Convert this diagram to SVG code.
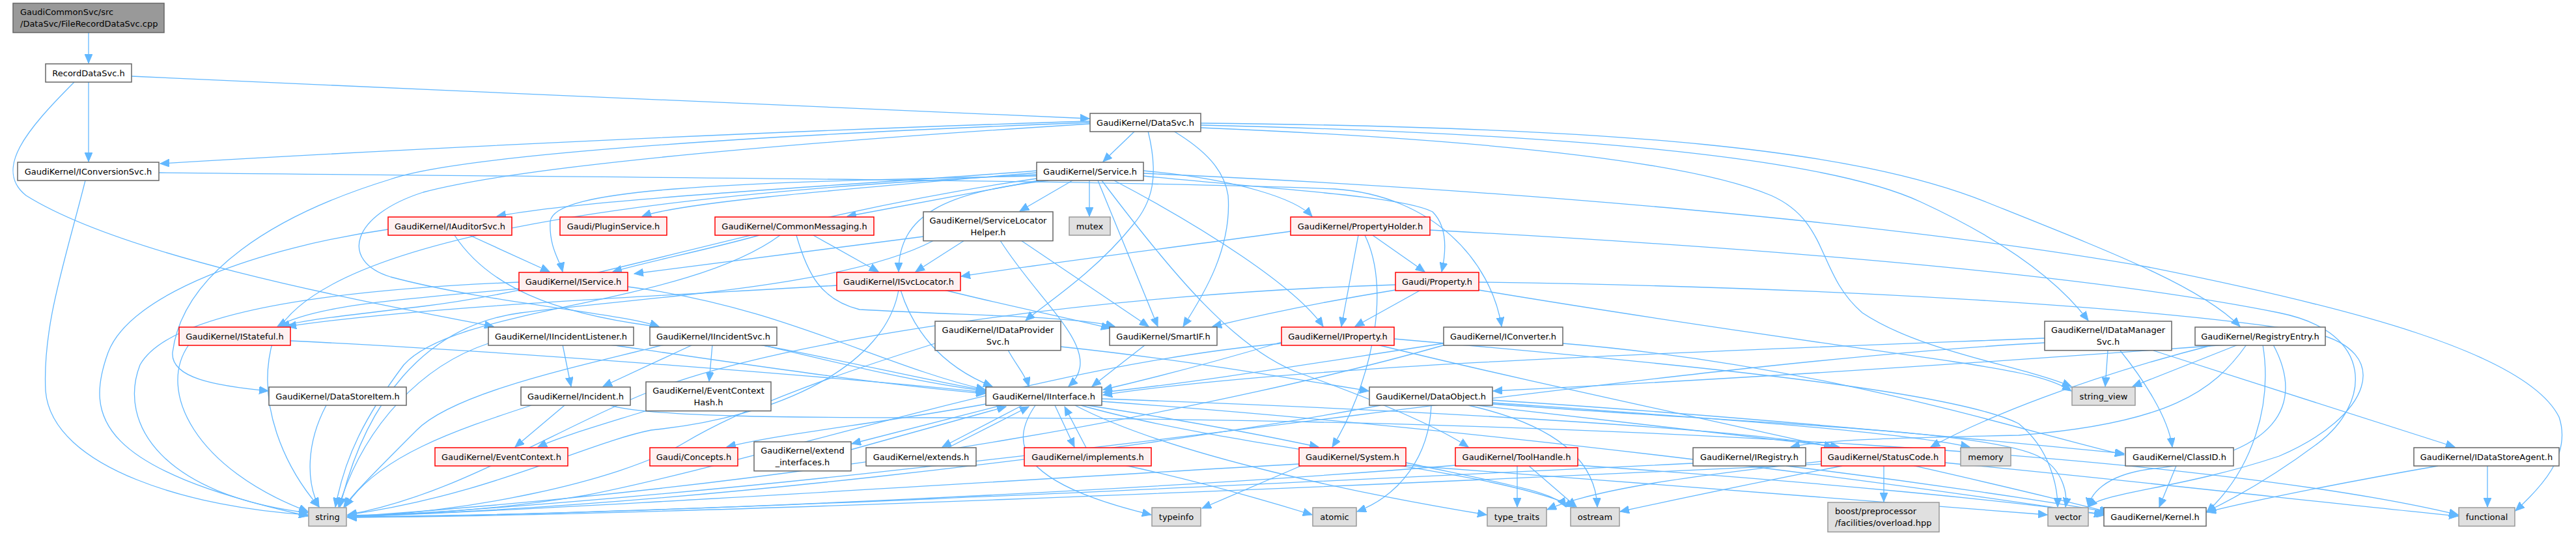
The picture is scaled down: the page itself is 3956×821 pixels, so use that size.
<svg xmlns="http://www.w3.org/2000/svg" width="3956" height="821" viewBox="0 0 3956 821">
<style>
.e{fill:none;stroke:#63b8ff;stroke-width:1.3;marker-end:url(#a)}
.n{fill:#fff;stroke:#666;stroke-width:1.5}
.g{fill:#e0e0e0;stroke:#999;stroke-width:1.5}
.r{fill:#fff0f0;stroke:#ff0000;stroke-width:1.5}
.root{fill:#999;stroke:#666;stroke-width:1.5}
text{font-family:"DejaVu Sans","Liberation Sans",sans-serif;font-size:13px;fill:#000;text-anchor:middle}
text.l{text-anchor:start}
</style>
<defs>
<marker id="a" markerWidth="15" markerHeight="12" refX="14" refY="6" orient="auto" markerUnits="userSpaceOnUse"><path d="M0,0 L14,6 L0,12 z" fill="#63b8ff" stroke="#63b8ff" stroke-width="1"/></marker>
</defs>
<rect width="3956" height="821" fill="#fff"/>
<g id="edges">
<path class="e" d="M136,50 L136,97"/>
<path class="e" d="M202,117 C700,140 1300,165 1673,182"/>
<path class="e" d="M136,126 L136,248"/>
<path class="e" d="M114,126 C40,200 -10,260 40,300 C200,400 600,470 758,501"/>
<path class="e" d="M1674,186 C1200,200 600,230 246,251"/>
<path class="e" d="M1674,188 C1100,210 700,240 600,275 C420,330 280,420 265,541 C262,580 330,592 412,600"/>
<path class="e" d="M1674,190 C1200,220 800,255 650,295 C540,330 520,400 600,425 C750,465 950,480 1012,501"/>
<path class="e" d="M1743,201 L1694,248"/>
<path class="e" d="M1763,201 C1780,270 1770,310 1740,345 C1680,420 1600,470 1575,492"/>
<path class="e" d="M1802,201 C1850,230 1880,260 1886,300 C1892,380 1850,450 1817,501"/>
<path class="e" d="M1844,196 C2300,215 2600,250 2720,300 C2810,340 2790,420 2860,480 C2950,540 3100,560 3181,593"/>
<path class="e" d="M1844,192 C2400,205 2800,240 2950,310 C3080,370 3160,430 3207,492"/>
<path class="e" d="M1844,189 C2500,195 2850,230 3050,310 C3250,390 3380,440 3440,501"/>
<path class="e" d="M1756,266 C2300,290 2900,340 3300,410 C3600,470 3880,540 3930,640 C3950,700 3900,750 3863,784"/>
<path class="e" d="M244,265 C900,272 1700,276 2050,290 C2200,300 2290,400 2306,501"/>
<path class="e" d="M131,277 C100,400 65,500 70,600 C80,720 300,780 473,790"/>
<path class="e" d="M1592,262 C1300,285 900,305 763,332"/>
<path class="e" d="M1592,265 C1300,290 1050,310 986,332"/>
<path class="e" d="M1595,277 L1301,332"/>
<path class="e" d="M1592,270 C1100,280 850,290 845,340 C843,380 860,400 864,417"/>
<path class="e" d="M1610,277 C1450,295 1380,330 1380,417"/>
<path class="e" d="M1686,277 L1778,501"/>
<path class="e" d="M1647,277 L1566,324"/>
<path class="e" d="M1673,277 L1673,332"/>
<path class="e" d="M1692,277 C1800,420 1900,540 2000,574 C2100,610 2200,650 2255,686"/>
<path class="e" d="M1756,262 C1900,275 1990,305 2015,332"/>
<path class="e" d="M1756,270 C1950,290 2150,300 2200,325 C2225,350 2220,390 2214,417"/>
<path class="e" d="M1711,277 C1850,350 1990,440 2032,501"/>
<path class="e" d="M1592,274 C1200,330 900,440 650,470 C550,482 470,490 431,501"/>
<path class="e" d="M1592,268 C900,300 480,380 420,520 C390,620 440,720 490,778"/>
<path class="e" d="M721,361 L844,417"/>
<path class="e" d="M596,352 C400,380 200,450 166,541 C130,640 150,720 473,792"/>
<path class="e" d="M698,361 C750,440 850,480 1000,500 C1250,540 1400,580 1513,599"/>
<path class="e" d="M1166,361 C1080,385 1000,400 941,417"/>
<path class="e" d="M1249,361 L1349,417"/>
<path class="e" d="M1223,361 C1240,420 1260,460 1320,475 C1500,485 1650,485 1712,501"/>
<path class="e" d="M1198,361 C1050,470 700,470 620,560 C560,640 530,700 515,778"/>
<path class="e" d="M1481,369 L1406,417"/>
<path class="e" d="M1568,369 L1764,501"/>
<path class="e" d="M1418,363 C1200,390 1050,410 974,420"/>
<path class="e" d="M1536,369 C1600,470 1700,540 1641,593"/>
<path class="e" d="M1434,369 C1300,440 1000,455 800,480 C650,500 560,620 522,778"/>
<path class="e" d="M2086,361 L2060,501"/>
<path class="e" d="M2108,361 L2188,417"/>
<path class="e" d="M1982,355 C1800,380 1600,405 1476,424"/>
<path class="e" d="M2196,353 C2700,380 3200,420 3500,480 C3650,510 3640,620 3560,680 C3480,740 3420,770 3389,785"/>
<path class="e" d="M2096,361 C2140,450 2100,600 2046,686"/>
<path class="e" d="M2182,445 L2081,501"/>
<path class="e" d="M2271,433 C2800,440 3300,470 3550,510 C3680,540 3640,640 3500,700 C3350,750 3230,755 3207,778"/>
<path class="e" d="M2143,437 C1700,450 1200,520 1000,600 C850,660 700,760 534,790"/>
<path class="e" d="M2143,445 C2050,460 1950,480 1862,501"/>
<path class="e" d="M2271,445 C2600,500 2900,540 3000,555 C3100,570 3150,580 3181,600"/>
<path class="e" d="M797,443 C600,460 480,470 426,501"/>
<path class="e" d="M797,433 C500,445 260,480 215,560 C180,650 250,760 473,787"/>
<path class="e" d="M964,440 C1200,470 1350,560 1513,598"/>
<path class="e" d="M1383,445 C1400,500 1440,560 1524,593"/>
<path class="e" d="M1450,445 C1550,470 1650,490 1705,504"/>
<path class="e" d="M1380,445 C1360,560 1200,640 1000,660 C900,680 750,760 534,790"/>
<path class="e" d="M1285,438 C1000,455 650,470 441,501"/>
<path class="e" d="M446,523 C800,540 1300,580 1513,602"/>
<path class="e" d="M290,529 C240,600 300,720 473,785"/>
<path class="e" d="M864,529 L877,593"/>
<path class="e" d="M937,529 C1150,560 1350,590 1513,604"/>
<path class="e" d="M750,527 C650,560 560,650 520,778"/>
<path class="e" d="M1094,529 L1089,585"/>
<path class="e" d="M1064,529 L926,593"/>
<path class="e" d="M1169,529 C1300,560 1400,585 1513,600"/>
<path class="e" d="M1020,529 C900,560 700,600 640,660 C580,720 540,760 528,778"/>
<path class="e" d="M1548,537 C1560,560 1575,575 1580,593"/>
<path class="e" d="M1629,532 C1800,550 1950,575 2102,600"/>
<path class="e" d="M1436,527 C1300,570 1150,620 1050,680 C950,740 700,790 534,792"/>
<path class="e" d="M1759,529 L1677,593"/>
<path class="e" d="M1968,525 C1850,560 1750,585 1694,598"/>
<path class="e" d="M1968,527 C1600,560 1200,700 900,760 C750,785 620,790 534,791"/>
<path class="e" d="M2115,529 C2400,600 2900,700 3239,786"/>
<path class="e" d="M2141,520 C2600,560 3000,600 3100,650 C3150,690 3160,750 3160,778"/>
<path class="e" d="M2217,527 C2000,560 1850,585 1694,602"/>
<path class="e" d="M2400,527 C2800,560 3100,660 3262,698"/>
<path class="e" d="M2220,529 C1900,620 1300,740 534,793"/>
<path class="e" d="M3140,519 C2600,540 2000,560 1694,606"/>
<path class="e" d="M3140,526 C2500,560 1500,740 534,794"/>
<path class="e" d="M3237,538 L3233,593"/>
<path class="e" d="M3256,538 C3290,580 3330,640 3336,686"/>
<path class="e" d="M3307,538 L3770,686"/>
<path class="e" d="M3437,529 L3275,593"/>
<path class="e" d="M3450,529 C3400,600 3330,650 3100,668 C2900,672 2800,675 2750,686"/>
<path class="e" d="M3475,529 C3490,620 3460,720 3389,786"/>
<path class="e" d="M3491,529 C3540,620 3500,700 3300,720 C3230,730 3210,760 3207,778"/>
<path class="e" d="M3420,529 C3000,560 2600,585 2293,600"/>
<path class="e" d="M3400,529 C3200,580 3050,640 2965,686"/>
<path class="e" d="M501,622 C470,680 470,740 490,778"/>
<path class="e" d="M867,622 L791,686"/>
<path class="e" d="M816,622 C700,660 580,700 530,778"/>
<path class="e" d="M937,622 C1000,640 1200,641 1500,641 C2500,645 3400,700 3775,790"/>
<path class="e" d="M1000,628 C930,650 860,670 826,686"/>
<path class="e" d="M1538,622 L1308,681"/>
<path class="e" d="M1307,690 L1545,624"/>
<path class="e" d="M1570,622 L1447,686"/>
<path class="e" d="M1456,687 L1580,624"/>
<path class="e" d="M1620,622 L1650,686"/>
<path class="e" d="M1668,687 L1635,624"/>
<path class="e" d="M1514,620 C1350,650 1200,665 1116,686"/>
<path class="e" d="M1590,622 C1550,680 1560,740 1768,790"/>
<path class="e" d="M1670,622 C1850,650 1950,670 2025,686"/>
<path class="e" d="M1651,622 C1800,700 2100,760 2283,790"/>
<path class="e" d="M1692,612 C2200,630 2700,660 2815,686"/>
<path class="e" d="M1692,616 C2300,660 2900,740 3230,790"/>
<path class="e" d="M1660,622 C1900,690 2300,720 2418,778"/>
<path class="e" d="M1727,714 C1850,740 1950,770 2015,790"/>
<path class="e" d="M2000,714 L1846,780"/>
<path class="e" d="M1995,712 C1500,740 900,780 534,793"/>
<path class="e" d="M2159,714 C2500,740 2900,770 3144,790"/>
<path class="e" d="M2159,710 C2300,740 2390,755 2405,778"/>
<path class="e" d="M2330,715 L2330,778"/>
<path class="e" d="M2348,715 L2421,778"/>
<path class="e" d="M2236,714 C1800,750 1000,790 534,793"/>
<path class="e" d="M2423,714 C2800,740 3100,770 3234,790"/>
<path class="e" d="M2600,711 C2000,740 1000,790 534,794"/>
<path class="e" d="M2743,715 C2950,740 3150,770 3238,786"/>
<path class="e" d="M2893,715 L2893,770"/>
<path class="e" d="M2829,715 C2700,740 2580,765 2488,785"/>
<path class="e" d="M2797,708 C2600,730 2450,750 2376,782"/>
<path class="e" d="M2987,710 C3300,740 3600,775 3775,792"/>
<path class="e" d="M2797,712 C2000,750 1000,792 534,794"/>
<path class="e" d="M2198,622 C2195,700 2150,760 2084,785"/>
<path class="e" d="M2255,622 C2380,650 2450,700 2453,778"/>
<path class="e" d="M2292,614 C2700,640 3100,680 3262,696"/>
<path class="e" d="M2268,622 C2500,650 2700,670 2825,686"/>
<path class="e" d="M2292,618 C2600,640 2900,660 3025,686"/>
<path class="e" d="M2120,622 C1700,700 1000,780 534,792"/>
<path class="e" d="M2292,620 C2700,650 3050,660 3130,700 C3170,720 3175,760 3172,778"/>
<path class="e" d="M3342,715 L3316,778"/>
<path class="e" d="M3744,715 C3600,740 3450,770 3389,786"/>
<path class="e" d="M3820,715 L3820,778"/>
</g>
<g id="n0"><rect class="root" x="20" y="5" width="232" height="45"/><text class="l" x="31" y="23.3">GaudiCommonSvc/src</text><text class="l" x="31" y="40.7">/DataSvc/FileRecordDataSvc.cpp</text></g>
<g id="n1"><rect class="n" x="70" y="98" width="132" height="28"/><text x="136" y="116.7">RecordDataSvc.h</text></g>
<g id="n2"><rect class="n" x="1674" y="174" width="170" height="28"/><text x="1759" y="192.7">GaudiKernel/DataSvc.h</text></g>
<g id="n3"><rect class="n" x="27" y="249" width="217" height="28"/><text x="135.5" y="267.7">GaudiKernel/IConversionSvc.h</text></g>
<g id="n4"><rect class="n" x="1592" y="249" width="164" height="28"/><text x="1674" y="267.7">GaudiKernel/Service.h</text></g>
<g id="n5"><rect class="r" x="596" y="333" width="190" height="28"/><text x="691" y="351.7">GaudiKernel/IAuditorSvc.h</text></g>
<g id="n6"><rect class="r" x="860" y="333" width="164" height="28"/><text x="942" y="351.7">Gaudi/PluginService.h</text></g>
<g id="n7"><rect class="r" x="1098" y="333" width="244" height="28"/><text x="1220" y="351.7">GaudiKernel/CommonMessaging.h</text></g>
<g id="n8"><rect class="n" x="1418" y="325" width="199" height="44.6"/><text x="1517.5" y="343.3">GaudiKernel/ServiceLocator</text><text x="1517.5" y="360.7">Helper.h</text></g>
<g id="n9"><rect class="g" x="1642" y="333" width="63" height="28"/><text x="1673.5" y="351.7">mutex</text></g>
<g id="n10"><rect class="r" x="1982" y="333" width="214" height="28"/><text x="2089" y="351.7">GaudiKernel/PropertyHolder.h</text></g>
<g id="n11"><rect class="r" x="797" y="418" width="167" height="28"/><text x="880.5" y="436.7">GaudiKernel/IService.h</text></g>
<g id="n12"><rect class="r" x="1285" y="418" width="190" height="28"/><text x="1380" y="436.7">GaudiKernel/ISvcLocator.h</text></g>
<g id="n13"><rect class="r" x="2143" y="418" width="128" height="28"/><text x="2207" y="436.7">Gaudi/Property.h</text></g>
<g id="n14"><rect class="r" x="275" y="502" width="171" height="28"/><text x="360.5" y="520.7">GaudiKernel/IStateful.h</text></g>
<g id="n15"><rect class="n" x="750" y="502" width="223" height="28"/><text x="861.5" y="520.7">GaudiKernel/IIncidentListener.h</text></g>
<g id="n16"><rect class="n" x="998" y="502" width="195" height="28"/><text x="1095.5" y="520.7">GaudiKernel/IIncidentSvc.h</text></g>
<g id="n17"><rect class="n" x="1436" y="493" width="193" height="44.7"/><text x="1532.5" y="511.3">GaudiKernel/IDataProvider</text><text x="1532.5" y="528.7">Svc.h</text></g>
<g id="n18"><rect class="n" x="1704" y="502" width="165" height="28"/><text x="1786.5" y="520.7">GaudiKernel/SmartIF.h</text></g>
<g id="n19"><rect class="r" x="1968" y="502" width="173" height="28"/><text x="2054.5" y="520.7">GaudiKernel/IProperty.h</text></g>
<g id="n20"><rect class="n" x="2217" y="502" width="183" height="28"/><text x="2308.5" y="520.7">GaudiKernel/IConverter.h</text></g>
<g id="n21"><rect class="n" x="3140" y="493" width="195" height="44.7"/><text x="3237.5" y="511.3">GaudiKernel/IDataManager</text><text x="3237.5" y="528.7">Svc.h</text></g>
<g id="n22"><rect class="n" x="3371" y="502" width="200" height="28"/><text x="3471" y="520.7">GaudiKernel/RegistryEntry.h</text></g>
<g id="n23"><rect class="n" x="413" y="594" width="211" height="28"/><text x="518.5" y="612.7">GaudiKernel/DataStoreItem.h</text></g>
<g id="n24"><rect class="n" x="800" y="594" width="168" height="28"/><text x="884" y="612.7">GaudiKernel/Incident.h</text></g>
<g id="n25"><rect class="n" x="992" y="586" width="192" height="44.6"/><text x="1088" y="604.3">GaudiKernel/EventContext</text><text x="1088" y="621.7">Hash.h</text></g>
<g id="n26"><rect class="n" x="1514" y="594" width="178" height="28"/><text x="1603" y="612.7">GaudiKernel/IInterface.h</text></g>
<g id="n27"><rect class="n" x="2103" y="594" width="189" height="28"/><text x="2197.5" y="612.7">GaudiKernel/DataObject.h</text></g>
<g id="n28"><rect class="g" x="3182" y="594" width="97" height="28"/><text x="3230.5" y="612.7">string_view</text></g>
<g id="n29"><rect class="r" x="668" y="687" width="204" height="28"/><text x="770" y="705.7">GaudiKernel/EventContext.h</text></g>
<g id="n30"><rect class="r" x="998" y="687" width="135" height="28"/><text x="1065.5" y="705.7">Gaudi/Concepts.h</text></g>
<g id="n31"><rect class="n" x="1158" y="678" width="149" height="44.7"/><text x="1232.5" y="696.3">GaudiKernel/extend</text><text x="1232.5" y="713.7">_interfaces.h</text></g>
<g id="n32"><rect class="n" x="1330" y="687" width="169" height="28"/><text x="1414.5" y="705.7">GaudiKernel/extends.h</text></g>
<g id="n33"><rect class="r" x="1573" y="687" width="195" height="28"/><text x="1670.5" y="705.7">GaudiKernel/implements.h</text></g>
<g id="n34"><rect class="r" x="1995" y="687" width="164" height="28"/><text x="2077" y="705.7">GaudiKernel/System.h</text></g>
<g id="n35"><rect class="r" x="2235" y="687" width="188" height="28"/><text x="2329" y="705.7">GaudiKernel/ToolHandle.h</text></g>
<g id="n36"><rect class="n" x="2600" y="687" width="173" height="28"/><text x="2686.5" y="705.7">GaudiKernel/IRegistry.h</text></g>
<g id="n37"><rect class="r" x="2797" y="687" width="190" height="28"/><text x="2892" y="705.7">GaudiKernel/StatusCode.h</text></g>
<g id="n38"><rect class="g" x="3011" y="687" width="77" height="28"/><text x="3049.5" y="705.7">memory</text></g>
<g id="n39"><rect class="n" x="3264" y="687" width="166" height="28"/><text x="3347" y="705.7">GaudiKernel/ClassID.h</text></g>
<g id="n40"><rect class="n" x="3707" y="687" width="223" height="28"/><text x="3818.5" y="705.7">GaudiKernel/IDataStoreAgent.h</text></g>
<g id="n41"><rect class="g" x="474" y="779" width="58" height="28.4"/><text x="503" y="797.9">string</text></g>
<g id="n42"><rect class="g" x="1769" y="779" width="75" height="28.4"/><text x="1806.5" y="797.9">typeinfo</text></g>
<g id="n43"><rect class="g" x="2016" y="779" width="67" height="28.4"/><text x="2049.5" y="797.9">atomic</text></g>
<g id="n44"><rect class="g" x="2284" y="779" width="91" height="28.4"/><text x="2329.5" y="797.9">type_traits</text></g>
<g id="n45"><rect class="g" x="2412" y="779" width="75" height="28.4"/><text x="2449.5" y="797.9">ostream</text></g>
<g id="n46"><rect class="g" x="2807" y="771" width="171" height="45.3"/><text class="l" x="2818" y="789.3">boost/preprocessor</text><text class="l" x="2818" y="806.7">/facilities/overload.hpp</text></g>
<g id="n47"><rect class="g" x="3145" y="779" width="62" height="28.4"/><text x="3176" y="797.9">vector</text></g>
<g id="n48"><rect class="n" x="3231" y="779" width="157" height="28.4"/><text x="3309.5" y="797.9">GaudiKernel/Kernel.h</text></g>
<g id="n49"><rect class="g" x="3776" y="779" width="86" height="28.4"/><text x="3819" y="797.9">functional</text></g>
</svg>
